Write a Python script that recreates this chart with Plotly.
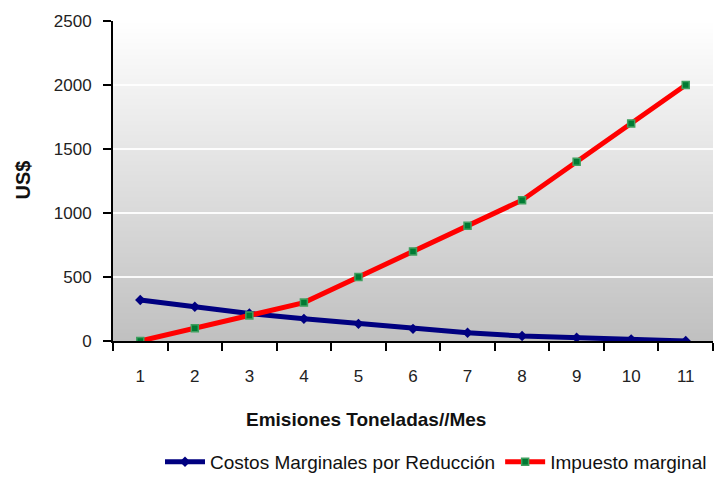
import plotly.graph_objects as go

categories = ["1", "2", "3", "4", "5", "6", "7", "8", "9", "10", "11"]
costos_marginales = [320, 268, 215, 173, 134, 95, 64, 39, 26, 13, 0]
impuesto_marginal = [0, 100, 200, 300, 500, 700, 900, 1100, 1400, 1700, 2000]
y_ticks = [0, 500, 1000, 1500, 2000, 2500]

FONT = "'Liberation Sans', Arial, sans-serif"

fig = go.Figure()
fig.add_trace(go.Scatter(
    x=categories, y=costos_marginales, mode="lines+markers",
    name="Costos Marginales por Reducción",
    line=dict(color="#000080", width=5),
    marker=dict(symbol="diamond", size=8, color="#000080"),
))
fig.add_trace(go.Scatter(
    x=categories, y=impuesto_marginal, mode="lines+markers",
    name="Impuesto marginal",
    line=dict(color="#ff0000", width=5),
    marker=dict(symbol="square", size=7, color="#007a33",
                line=dict(color="#3fa05f", width=1.5)),
))

# gradient background for plot area (white top -> grey bottom)
n = 160
shapes = []
for i in range(n):
    t = (i + 0.5) / n
    g = int(round(192 + (255 - 192) * t))
    shapes.append(dict(type="rect", xref="x domain", yref="y domain",
                       x0=0, x1=1, y0=i / n, y1=(i + 1) / n + 0.002,
                       fillcolor=f"rgb({g},{g},{g})", line=dict(width=0),
                       layer="below"))

fig.update_layout(
    width=715, height=483,
    margin=dict(l=113, r=2, t=21, b=139),
    paper_bgcolor="white",
    plot_bgcolor="rgba(0,0,0,0)",
    font=dict(family=FONT, size=17, color="#222222"),
    shapes=shapes,
    showlegend=True,
    legend=dict(orientation="h", x=(436 - 113) / 600, xanchor="center", y=-0.378,
                yanchor="middle", font=dict(size=19, color="#111111"),
                itemwidth=40, tracegroupgap=0),
    annotations=[
        dict(text="<b>Emisiones Toneladas//Mes</b>", xref="paper", yref="paper",
             x=(366 - 113) / 600, y=(344 - 423) / 323, xanchor="center", yanchor="middle",
             showarrow=False, font=dict(size=19, color="#111111")),
        dict(text="<b>US$</b>", xref="paper", yref="paper",
             x=(23 - 113) / 600, y=(344 - 182) / 323, xanchor="center", yanchor="middle",
             textangle=-90, showarrow=False, font=dict(size=20, color="#111111")),
    ],
)
fig.update_xaxes(
    type="category", range=[-0.5, 10.5],
    showline=True, linecolor="black", linewidth=2,
    ticks="outside", tickson="boundaries", ticklen=8, tickcolor="black", tickwidth=2,
    showgrid=False, zeroline=False, ticklabelstandoff=19,
)
fig.update_yaxes(
    range=[0, 2500], tickvals=y_ticks,
    showline=True, linecolor="black", linewidth=2,
    ticks="outside", ticklen=8, tickcolor="black", tickwidth=2,
    showgrid=True, gridcolor="rgba(255,255,255,0.9)", gridwidth=1.5,
    zeroline=False, ticklabelstandoff=8,
)

fig.write_html("out.html")
